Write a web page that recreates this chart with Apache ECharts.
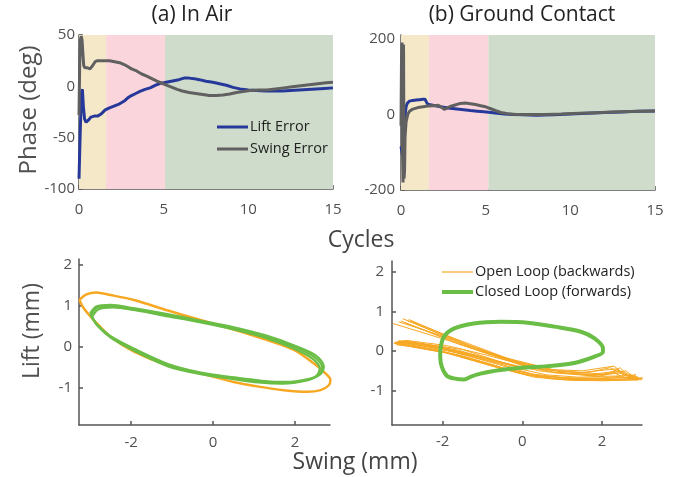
<!DOCTYPE html>
<html>
<head>
<meta charset="utf-8">
<script src="https://cdn.jsdelivr.net/npm/echarts@6/dist/echarts.min.js"></script>
<style>
  html, body { margin: 0; padding: 0; background: #fff; }
  #chart { width: 673px; height: 477px; }
</style>
</head>
<body>
<div id="chart"></div>
<script>
// phase error vs cycles, [cycle, deg]
var liftErrAir = [[0,-90],[0.08,-40],[0.15,-5],[0.2,-3],[0.26,-20],[0.33,-32],[0.42,-35],[0.55,-33],[0.7,-30],[0.9,-29],[1.1,-29],[1.3,-27],[1.55,-23],[1.8,-21],[2.1,-19],[2.4,-17],[2.7,-14],[2.9,-11],[3.1,-9],[3.35,-7],[3.6,-5],[3.9,-3],[4.2,-1.5],[4.5,1],[4.8,3],[5.0,3.5],[5.3,4.5],[5.6,5.5],[5.9,6.5],[6.2,8],[6.5,8],[6.8,7.5],[7.1,6.5],[7.5,5],[7.9,4],[8.3,2.5],[8.7,1],[9.1,-1],[9.5,-2.5],[10,-3.5],[10.5,-4],[11,-4.5],[11.5,-4.5],[12,-4.5],[12.5,-4],[13,-3.5],[13.5,-3],[14,-2.5],[14.5,-2],[15,-1.5]];
var swingErrAir = [[0,-28],[0.04,20],[0.08,45],[0.13,49],[0.18,45],[0.23,32],[0.28,20],[0.35,18],[0.5,18],[0.65,17],[0.8,20],[0.95,24],[1.1,25],[1.3,25],[1.55,25],[1.8,25],[2.1,24],[2.4,23],[2.7,21],[2.9,19],[3.1,17],[3.4,15],[3.7,12],[4.0,10],[4.3,7.5],[4.6,5],[4.9,3],[5.2,1],[5.5,-1],[5.8,-3],[6.1,-4.5],[6.5,-6],[6.9,-7],[7.3,-8],[7.7,-9],[8.1,-9],[8.5,-8.5],[8.9,-7.5],[9.3,-6],[9.7,-5],[10.1,-4],[10.6,-3.5],[11.1,-3.5],[11.6,-2.5],[12.1,-1.5],[12.6,-0.5],[13.1,0.5],[13.6,1.5],[14.1,2.5],[14.6,3.5],[15,4]];
var liftErrGround = [[0,-85],[0.1,-110],[0.2,-40],[0.25,0],[0.3,20],[0.38,30],[0.5,35],[0.7,37],[0.9,38],[1.1,39],[1.3,40],[1.42,40],[1.5,33],[1.58,27],[1.8,25],[2.1,22],[2.5,19],[2.9,16],[3.3,14],[3.7,12],[4.1,10],[4.5,8.5],[4.9,7],[5.3,5],[5.7,3],[6.1,1],[6.6,0],[7.2,-1],[8,-2],[9,-1],[10,1],[11,3],[12,5],[13,6.5],[14,8],[15,9]];
var swingErrGround = [[0,-30],[0.03,150],[0.06,190],[0.09,-100],[0.12,-180],[0.15,185],[0.18,-170],[0.21,-150],[0.24,-60],[0.3,-20],[0.4,0],[0.5,8],[0.7,14],[1.0,18],[1.3,20],[1.6,22],[1.9,23],[2.2,24],[2.4,19],[2.55,13],[2.7,16],[2.9,21],[3.2,25],[3.5,29],[3.8,30],[4.1,28],[4.4,26],[4.7,23],[5.0,20],[5.3,15],[5.6,10],[5.9,5],[6.3,2],[6.8,0],[7.5,0],[8.5,0],[9.5,1],[10.5,3],[11.5,4.5],[12.5,6],[13.5,7.5],[15,9]];

// shaded phases (cycle boundaries)
var phaseBoundsAir = [0, 1.6, 5.08, 15];
var phaseBoundsGround = [0, 1.65, 5.16, 15];
var phaseColors = ['#f5e8c9', '#fbd5dc', '#cfdccb'];

// swing/lift trajectories, [swing mm, lift mm]
var openLoopAir = [[-3.26,1.15],[-3.1,1.28],[-2.85,1.33],[-2.5,1.27],[-1.93,1.15],[-1.12,0.9],[-0.31,0.66],[0.5,0.43],[1.32,0.17],[1.97,-0.07],[2.46,-0.4],[2.74,-0.64],[2.86,-0.8],[2.82,-0.93],[2.62,-1.05],[2.29,-1.09],[1.72,-1.05],[1.15,-0.97],[0.5,-0.85],[-0.31,-0.64],[-1.12,-0.44],[-1.93,-0.11],[-2.5,0.25],[-2.91,0.66],[-3.15,0.94],[-3.26,1.15]];
var closedLoopAir1 = [[-2.98,0.78],[-2.83,0.96],[-2.5,1.0],[-1.93,0.92],[-1.12,0.78],[-0.31,0.62],[0.5,0.46],[1.32,0.25],[1.97,0.01],[2.46,-0.24],[2.66,-0.5],[2.58,-0.68],[2.29,-0.8],[1.72,-0.87],[1.15,-0.84],[0.5,-0.76],[-0.31,-0.64],[-1.12,-0.44],[-1.93,-0.07],[-2.5,0.25],[-2.83,0.54],[-2.98,0.78]];
var closedLoopAir2 = [[-2.95,0.74],[-2.8,0.92],[-2.45,0.97],[-1.9,0.9],[-1.1,0.75],[-0.3,0.6],[0.5,0.43],[1.3,0.22],[1.95,-0.03],[2.42,-0.28],[2.6,-0.52],[2.52,-0.7],[2.25,-0.82],[1.7,-0.89],[1.1,-0.86],[0.5,-0.78],[-0.3,-0.66],[-1.1,-0.47],[-1.9,-0.1],[-2.48,0.22],[-2.8,0.5],[-2.95,0.74]];
var closedLoopAir3 = [[-3.0,0.82],[-2.85,0.99],[-2.5,1.03],[-1.95,0.95],[-1.15,0.81],[-0.33,0.65],[0.48,0.49],[1.3,0.28],[1.98,0.04],[2.5,-0.2],[2.7,-0.47],[2.62,-0.66],[2.32,-0.78],[1.75,-0.85],[1.18,-0.82],[0.52,-0.74],[-0.3,-0.62],[-1.1,-0.41],[-1.92,-0.04],[-2.52,0.28],[-2.85,0.57],[-3.0,0.82]];

var openLoopGround1 = [[-3.0,0.82],[-1.5,0.2],[0.3,-0.45],[1.5,-0.5],[2.3,-0.38],[2.45,-0.5],[2.95,-0.7],[2.0,-0.73],[1.0,-0.72],[0.2,-0.62],[-0.8,-0.35],[-2.0,-0.02],[-2.9,0.14],[-3.18,0.2],[-3.0,0.25],[-2.2,0.12],[-1.2,-0.12],[-0.2,-0.38]];
var openLoopGround2 = [[-2.9,0.78],[-1.4,0.15],[0.5,-0.47],[1.6,-0.55],[2.2,-0.42],[2.5,-0.58],[2.9,-0.66],[1.9,-0.7],[0.9,-0.7],[0.1,-0.6],[-0.9,-0.32],[-2.1,0.02],[-2.95,0.17],[-3.2,0.22],[-2.95,0.26],[-2.0,0.1],[-1.0,-0.15],[0.0,-0.42]];
var openLoopGround3 = [[-3.25,0.7],[-1.8,0.25],[0.2,-0.42],[1.4,-0.55],[2.35,-0.45],[2.6,-0.62],[3.0,-0.72],[2.1,-0.75],[1.2,-0.74],[0.3,-0.66],[-0.7,-0.4],[-1.9,-0.05],[-2.85,0.12],[-3.15,0.16],[-3.05,0.22],[-2.1,0.09],[-1.1,-0.18],[0.1,-0.45]];
var openLoopGround4 = [[-2.95,0.72],[-1.6,0.18],[0.4,-0.5],[1.7,-0.6],[2.4,-0.5],[2.7,-0.65],[2.85,-0.6],[2.0,-0.68],[1.1,-0.68],[0.25,-0.58],[-0.6,-0.34],[-1.8,0.0],[-2.8,0.18],[-3.1,0.23],[-2.9,0.27],[-1.9,0.14],[-0.9,-0.1],[0.2,-0.4]];
var openLoopGround5 = [[-3.05,0.76],[-1.2,0.05],[0.6,-0.52],[1.8,-0.62],[2.5,-0.55],[2.75,-0.7],[3.02,-0.68],[2.2,-0.72],[1.3,-0.7],[0.4,-0.62],[-0.5,-0.42],[-1.7,-0.08],[-2.7,0.1],[-3.2,0.19],[-3.1,0.24],[-2.3,0.15],[-1.3,-0.08],[-0.1,-0.4]];
var openLoopGround6 = [[-2.85,0.8],[-1.0,0.0],[0.8,-0.55],[1.9,-0.64],[2.3,-0.55],[2.55,-0.67],[2.9,-0.73],[1.8,-0.74],[0.7,-0.7],[-0.1,-0.55],[-1.0,-0.28],[-2.2,0.04],[-3.0,0.16],[-3.22,0.2],[-3.0,0.22],[-2.0,0.06],[-0.8,-0.22],[0.3,-0.47]];
var openLoopGround7 = [[-3.1,0.74],[-2.0,0.38],[-0.5,-0.15],[0.9,-0.5],[2.0,-0.58],[2.6,-0.5],[2.8,-0.66],[1.6,-0.7],[0.5,-0.64],[-0.4,-0.45],[-1.5,-0.12],[-2.6,0.12],[-3.15,0.22],[-2.9,0.24],[-1.6,0.02],[-0.5,-0.3]];
var openLoopGround8 = [[-2.8,0.76],[-1.7,0.32],[-0.2,-0.25],[1.1,-0.56],[2.1,-0.6],[2.45,-0.42],[2.65,-0.62],[1.4,-0.66],[0.6,-0.6],[-0.3,-0.4],[-1.4,-0.1],[-2.5,0.14],[-3.1,0.26],[-2.7,0.22],[-1.5,0.04],[-0.4,-0.32]];
var closedLoopGround = [[-2.06,0.03],[-1.97,0.36],[-1.72,0.57],[-1.22,0.70],[-0.55,0.74],[0.13,0.72],[0.8,0.62],[1.47,0.49],[1.81,0.32],[2.02,0.07],[2.02,-0.02],[1.81,-0.14],[1.3,-0.3],[0.63,-0.38],[-0.04,-0.42],[-0.55,-0.48],[-1.05,-0.57],[-1.3,-0.65],[-1.47,-0.72],[-1.72,-0.69],[-1.89,-0.63],[-2.02,-0.4],[-2.06,-0.14],[-2.06,0.03]];

// tick labels
var cycleTicks = [0, 5, 10, 15];
var phaseTicksAir = [-100, -50, 0, 50];
var phaseTicksGround = [-200, 0, 200];
var swingTicks = [-2, 0, 2];
var liftTicks = [-1, 0, 1, 2];

var FONT = '"Open Sans", "Noto Sans", sans-serif';
var AXIS = '#555';
var BLUE = '#26399a';
var GRAY = '#606060';
var ORANGE = '#f7a823';
var GREEN = '#6abd45';

function axis(gridIndex, min, max, ticks, margin) {
  return {
    type: 'value', gridIndex: gridIndex, min: min, max: max,
    axisLine: { onZero: false, lineStyle: { color: AXIS, width: 1.5 } },
    axisTick: { inside: true, length: 4, customValues: ticks, lineStyle: { color: AXIS, width: 1.5 } },
    axisLabel: { customValues: ticks, color: '#505050', fontSize: 15, fontFamily: FONT, margin: margin },
    splitLine: { show: false }
  };
}

function shading(bounds) {
  var out = [];
  for (var i = 0; i < bounds.length - 1; i++) {
    out.push([{ xAxis: bounds[i], itemStyle: { color: phaseColors[i] } }, { xAxis: bounds[i + 1] }]);
  }
  return { silent: true, data: out };
}

function line(name, x, y, data, color, width, extra) {
  var s = {
    name: name, type: 'line', xAxisIndex: x, yAxisIndex: y, data: data,
    showSymbol: false, symbol: 'none',
    lineStyle: { color: color, width: width }, itemStyle: { color: color }
  };
  return Object.assign(s, extra || {});
}

function txt(t, x, y, size, rot, color) {
  return {
    type: 'text', x: x, y: y, rotation: rot || 0, z: 100,
    style: { text: t, fontSize: size, fontFamily: FONT, fill: color || '#444', align: 'center', verticalAlign: 'middle' }
  };
}

function legendRow(x, y, color, width, label) {
  return [
    { type: 'line', z: 100, shape: { x1: x, y1: y, x2: x + 31, y2: y }, style: { stroke: color, lineWidth: width } },
    { type: 'text', z: 100, x: x + 33, y: y, style: { text: label, fontSize: 14.5, fontFamily: FONT, fill: '#222', align: 'left', verticalAlign: 'middle' } }
  ];
}

var chart = echarts.init(document.getElementById('chart'));
var option = {
  animation: false,
  backgroundColor: '#fff',
  grid: [
    { left: 79, top: 35, width: 254, height: 154 },
    { left: 401, top: 35, width: 254, height: 155 },
    { left: 79, top: 259, width: 251, height: 166 },
    { left: 392, top: 261, width: 250, height: 164 }
  ],
  xAxis: [
    axis(0, 0, 15, cycleTicks, 13),
    axis(1, 0, 15, cycleTicks, 13),
    axis(2, -3.27, 2.85, swingTicks, 10),
    axis(3, -3.27, 3.0, swingTicks, 9)
  ],
  yAxis: [
    axis(0, -100, 50, phaseTicksAir, 4),
    axis(1, -200, 210, phaseTicksGround, 6),
    axis(2, -1.9, 2.15, liftTicks, 7),
    axis(3, -1.87, 2.28, liftTicks, 8)
  ],
  series: [
    line('Lift Error', 0, 0, liftErrAir, BLUE, 3, { markArea: shading(phaseBoundsAir) }),
    line('Swing Error', 0, 0, swingErrAir, GRAY, 3),
    line('Lift Error', 1, 1, liftErrGround, BLUE, 3, { markArea: shading(phaseBoundsGround) }),
    line('Swing Error', 1, 1, swingErrGround, GRAY, 3),
    line('Open Loop', 2, 2, openLoopAir, ORANGE, 2.5, { smooth: 0.3 }),
    line('Closed Loop', 2, 2, closedLoopAir1, GREEN, 2.2, { smooth: 0.3 }),
    line('Closed Loop', 2, 2, closedLoopAir2, GREEN, 2.2, { smooth: 0.3 }),
    line('Closed Loop', 2, 2, closedLoopAir3, GREEN, 2.2, { smooth: 0.3 }),
    line('Open Loop', 3, 3, openLoopGround1, ORANGE, 1),
    line('Open Loop', 3, 3, openLoopGround2, ORANGE, 1),
    line('Open Loop', 3, 3, openLoopGround3, ORANGE, 1),
    line('Open Loop', 3, 3, openLoopGround4, ORANGE, 1),
    line('Open Loop', 3, 3, openLoopGround5, ORANGE, 1),
    line('Open Loop', 3, 3, openLoopGround6, ORANGE, 1),
    line('Open Loop', 3, 3, openLoopGround7, ORANGE, 1),
    line('Open Loop', 3, 3, openLoopGround8, ORANGE, 1),
    line('Closed Loop', 3, 3, closedLoopGround, GREEN, 4, { smooth: 0.3 })
  ],
  graphic: [
    txt('(a) In Air', 192, 15, 21, 0, '#222'),
    txt('(b) Ground Contact', 522, 15, 21, 0, '#222'),
    txt('Phase (deg)', 29, 110, 24, Math.PI / 2, '#505050'),
    txt('Cycles', 361, 240, 23, 0, '#444'),
    txt('Lift (mm)', 32, 331, 23, Math.PI / 2, '#505050'),
    txt('Swing (mm)', 355, 462, 23, 0, '#444')
  ]
    .concat(legendRow(217, 127, BLUE, 3, 'Lift Error'))
    .concat(legendRow(217, 149, GRAY, 3, 'Swing Error'))
    .concat(legendRow(442, 272, ORANGE, 1.2, 'Open Loop (backwards)'))
    .concat(legendRow(442, 292, GREEN, 4, 'Closed Loop (forwards)'))
};
chart.setOption(option);
</script>
</body>
</html>
